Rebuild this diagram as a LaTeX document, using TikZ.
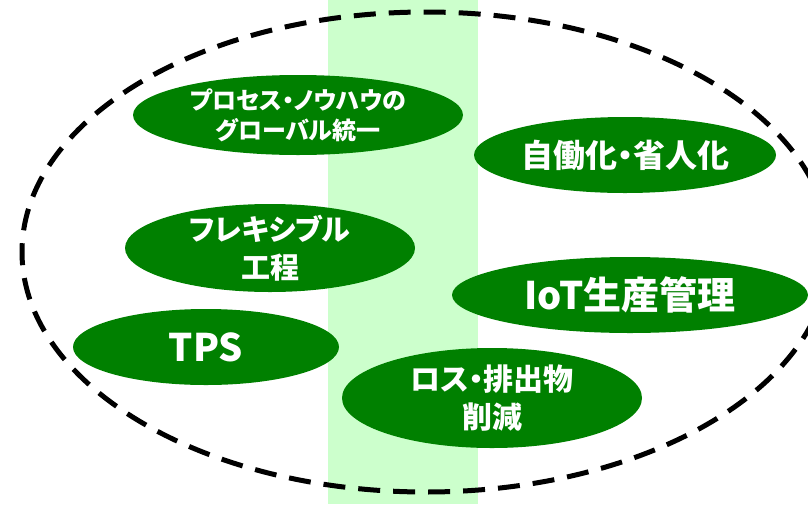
\documentclass[tikz,border=0pt]{standalone}
\usepackage{fontspec}
\newfontfamily\jpfont{Noto Sans CJK JP}[RawFeature=+palt]
\usepackage{tikz}
\usetikzlibrary{positioning,calc}

\begin{document}
\begin{tikzpicture}[x=1pt,y=-1pt,
        blob/.style={fill={rgb,255:red,0;green,128;blue,0}},
        lbl/.style={text=white,align=center,inner sep=0pt},
        band/.style={fill={rgb,255:red,204;green,255;blue,204}},
        border/.style={line width=5pt,dash pattern=on 22pt off 13pt}]
        \useasboundingbox (0,0) rectangle (808,504);
        \clip (0,0) rectangle (808,504);
        \fill[band] (328,0) rectangle (478,504);
        \draw[border] (426,252) ellipse [x radius=404, y radius=240];
        \foreach \nm/\cx/\cy/\rx/\ry/\fs/\bs/\txt in
            {proc/298/115/165/40/24/30/{プロセス・ノウハウの\\グローバル統一},
             auto/625/155/151/38/32/36/{自働化・省人化},
             flex/270/248/145/44/29/38/{フレキシブル\\工程},
             iot/630/295/178/38/38/40/{IoT生産管理},
             tps/206/347/133/38/38/40/{TPS},
             loss/492/398/150/50/30/38/{ロス・排出物\\削減}}
            {
                \fill[blob] (\cx,\cy) ellipse [x radius=\rx, y radius=\ry];
                \node[lbl,font=\jpfont\bfseries\fontsize{\fs}{\bs}\selectfont] (\nm) at (\cx,\cy) {\txt};
            }
\end{tikzpicture}
\end{document}
